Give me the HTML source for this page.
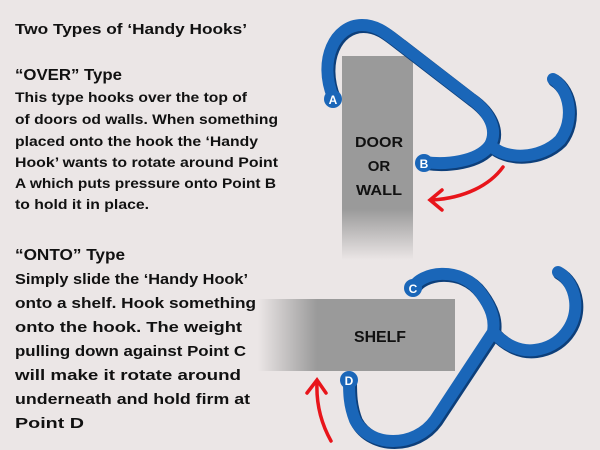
<!DOCTYPE html>
<html><head><style>
html,body{margin:0;padding:0;background:#ebe6e6;}
svg{display:block;}
text{font-family:"Liberation Sans",sans-serif;font-weight:bold;fill:#111;}
</style></head><body>
<svg width="600" height="450" viewBox="0 0 600 450" xmlns="http://www.w3.org/2000/svg">
<defs>
<linearGradient id="dg" x1="0" y1="0" x2="0" y2="1">
<stop offset="0.75" stop-color="#9a9a9a"/><stop offset="1" stop-color="#ebe6e6"/>
</linearGradient>
<linearGradient id="sg" x1="0" y1="0" x2="1" y2="0">
<stop offset="0" stop-color="#ebe6e6"/><stop offset="0.3" stop-color="#9a9a9a"/>
</linearGradient>
</defs>
<rect width="600" height="450" fill="#ebe6e6"/>
<text x="15" y="34" font-size="15" textLength="232" lengthAdjust="spacingAndGlyphs">Two Types of ‘Handy Hooks’</text>
<text x="15" y="80" font-size="16" textLength="107" lengthAdjust="spacingAndGlyphs">“OVER” Type</text>
<g font-size="13.5">
<text x="15" y="102" textLength="232" lengthAdjust="spacingAndGlyphs">This type hooks over the top of</text>
<text x="15" y="124" textLength="263" lengthAdjust="spacingAndGlyphs">of doors od walls. When something</text>
<text x="15" y="146" textLength="243" lengthAdjust="spacingAndGlyphs">placed onto the hook the ‘Handy</text>
<text x="15" y="167" textLength="263" lengthAdjust="spacingAndGlyphs">Hook’ wants to rotate around Point</text>
<text x="15" y="188" textLength="261" lengthAdjust="spacingAndGlyphs">A which puts pressure onto Point B</text>
<text x="15" y="209" textLength="134" lengthAdjust="spacingAndGlyphs">to hold it in place.</text>
</g>
<text x="15" y="260" font-size="16" textLength="110" lengthAdjust="spacingAndGlyphs">“ONTO” Type</text>
<g font-size="15">
<text x="15" y="284" textLength="233" lengthAdjust="spacingAndGlyphs">Simply slide the ‘Handy Hook’</text>
<text x="15" y="308" textLength="241" lengthAdjust="spacingAndGlyphs">onto a shelf. Hook something</text>
<text x="15" y="332" textLength="227" lengthAdjust="spacingAndGlyphs">onto the hook. The weight</text>
<text x="15" y="356" textLength="231" lengthAdjust="spacingAndGlyphs">pulling down against Point C</text>
<text x="15" y="380" textLength="226" lengthAdjust="spacingAndGlyphs">will make it rotate around</text>
<text x="15" y="404" textLength="235" lengthAdjust="spacingAndGlyphs">underneath and hold firm at</text>
<text x="15" y="428" textLength="69" lengthAdjust="spacingAndGlyphs">Point D</text>
</g>

<!-- door -->
<rect x="342" y="56" width="71" height="204" fill="url(#dg)"/>
<text x="379" y="147" font-size="15" text-anchor="middle" textLength="48" lengthAdjust="spacingAndGlyphs">DOOR</text>
<text x="379" y="171" font-size="15" text-anchor="middle">OR</text>
<text x="379" y="195" font-size="15" text-anchor="middle" textLength="46" lengthAdjust="spacingAndGlyphs">WALL</text>

<!-- top hook -->
<g fill="none" stroke-linecap="round" stroke-linejoin="round">
<path d="M333,97 C318,60 335,25 362,25 C378,25 388,35 400,44 L470,98 C490,112 498,130 490,145 C478,162 445,165 425,162 M490,145 C505,160 540,160 560,140 C575,120 570,90 553,79" stroke="#0d3f7a" stroke-width="13" transform="translate(1.5,1.5)"/>
<path d="M333,97 C318,60 335,25 362,25 C378,25 388,35 400,44 L470,98 C490,112 498,130 490,145 C478,162 445,165 425,162 M490,145 C505,160 540,160 560,140 C575,120 570,90 553,79" stroke="#1a66b8" stroke-width="12"/>
</g>
<circle cx="333" cy="99" r="9" fill="#1a66b8"/>
<text x="333" y="104" font-size="12" style="fill:#fff" text-anchor="middle">A</text>
<circle cx="424" cy="163" r="9" fill="#1a66b8"/>
<text x="424" y="168" font-size="12" style="fill:#fff" text-anchor="middle">B</text>
<!-- red arrow top -->
<path d="M503,167 C490,185 465,198 432,200" fill="none" stroke="#e8151b" stroke-width="3.5" stroke-linecap="round"/>
<path d="M442,190 L430,200 L442,210" fill="none" stroke="#e8151b" stroke-width="3.5" stroke-linecap="round"/>

<!-- shelf -->
<rect x="258" y="299" width="197" height="72" fill="url(#sg)"/>
<text x="380" y="342" font-size="16" text-anchor="middle" textLength="52" lengthAdjust="spacingAndGlyphs">SHELF</text>

<!-- bottom hook -->
<g fill="none" stroke-linecap="round" stroke-linejoin="round">
<path d="M413,288 C420,272 460,265 480,292 C492,308 495,320 493,332 L435,420 C415,448 370,448 355,420 C349,405 349,392 349,380 M493,332 C505,345 520,352 535,350 C560,347 578,325 575,300 C573,285 565,276 558,272" stroke="#0d3f7a" stroke-width="13" transform="translate(1.5,1.5)"/>
<path d="M413,288 C420,272 460,265 480,292 C492,308 495,320 493,332 L435,420 C415,448 370,448 355,420 C349,405 349,392 349,380 M493,332 C505,345 520,352 535,350 C560,347 578,325 575,300 C573,285 565,276 558,272" stroke="#1a66b8" stroke-width="12"/>
</g>
<circle cx="413" cy="288" r="9" fill="#1a66b8"/>
<text x="413" y="293" font-size="12" style="fill:#fff" text-anchor="middle">C</text>
<circle cx="349" cy="380" r="9" fill="#1a66b8"/>
<text x="349" y="385" font-size="12" style="fill:#fff" text-anchor="middle">D</text>
<!-- red arrow bottom -->
<path d="M331,441 C322,425 316,405 317,382" fill="none" stroke="#e8151b" stroke-width="3.5" stroke-linecap="round"/>
<path d="M307,393 L317,380 L326,393" fill="none" stroke="#e8151b" stroke-width="3.5" stroke-linecap="round"/>
</svg>
</body></html>
